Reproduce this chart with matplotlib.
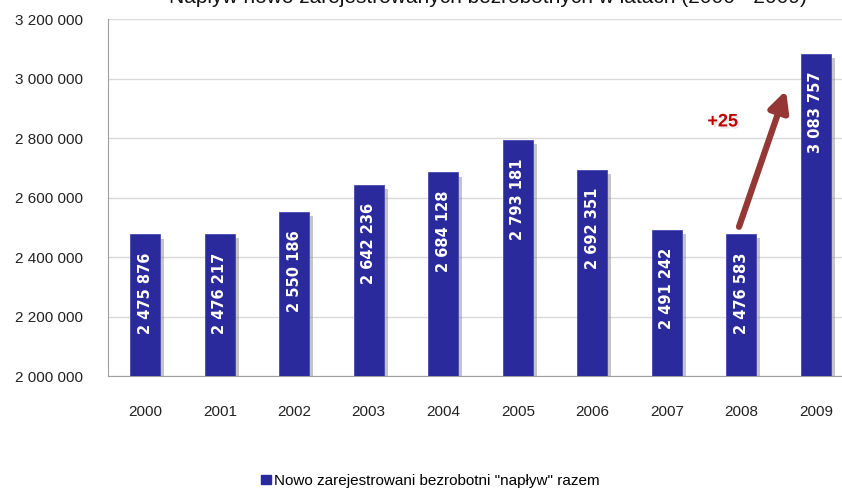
import matplotlib.pyplot as plt
import matplotlib.patheffects as pe
from matplotlib.patches import Patch
from matplotlib.ticker import FuncFormatter

years = ['2000', '2001', '2002', '2003', '2004', '2005', '2006', '2007', '2008', '2009']
values = [2475876, 2476217, 2550186, 2642236, 2684128, 2793181, 2692351, 2491242, 2476583, 3083757]
series_name = 'Nowo zarejestrowani bezrobotni "napływ" razem'
title = 'Napływ nowo zarejestrowanych bezrobotnych w latach (2000 - 2009)'
growth_label = '+25'

bar_color = '#2A2A9C'
arrow_color = '#953735'
fonts = ['Liberation Sans', 'DejaVu Sans']

plt.rcParams['font.family'] = fonts

fig = plt.figure(figsize=(8.42, 4.9), dpi=100)
ax = fig.add_axes([108 / 842, 1 - 376 / 490, 745 / 842, 357 / 490])

x = range(len(years))
shadow = [pe.SimplePatchShadow(offset=(3, -3), shadow_rgbFace='#808080', alpha=0.45), pe.Normal()]
bars = ax.bar(x, values, width=0.4, color=bar_color, edgecolor='#4848B0', linewidth=0.6, zorder=3)
for b in bars:
    b.set_path_effects(shadow)

# value labels inside bars, near the top
for i, v in enumerate(values):
    ax.annotate(f'{v:,}'.replace(',', ' '), (i, v), xytext=(0, -13), textcoords='offset points',
                rotation=90, ha='center', va='top', color='white', fontsize=10.5,
                fontweight='bold', family=['DejaVu Sans'], zorder=4)

ax.set_ylim(2000000, 3200000)
ax.set_xlim(-0.5, len(years) - 0.5)
ax.set_yticks(range(2000000, 3200001, 200000))
ax.yaxis.set_major_formatter(FuncFormatter(lambda v, p: f'{v:,.0f}'.replace(',', ' ')))
ax.set_xticks(list(x))
ax.set_xticklabels(years)
ax.tick_params(axis='y', length=0, pad=18, labelsize=11, labelcolor='#222222')
ax.tick_params(axis='x', length=0, pad=21, labelsize=11, labelcolor='#222222')

ax.grid(axis='y', color='#D9D9D9', linewidth=1, zorder=0)
ax.set_axisbelow(True)
for s in ['top', 'right']:
    ax.spines[s].set_visible(False)
ax.spines['left'].set_color('#A0A0A0')
ax.spines['bottom'].set_color('#A0A0A0')

# growth arrow 2008 -> 2009
ax.annotate('', xy=(8.6, 2960000), xytext=(7.97, values[8] + 25000),
            arrowprops=dict(arrowstyle='-|>,head_length=1.2,head_width=0.6', color=arrow_color,
                            lw=4.5, shrinkA=0, shrinkB=0), zorder=5)
ax.text(7.75, 2854000, growth_label, color='#C00000', fontsize=13, fontweight='bold',
        ha='center', va='center', zorder=5,
        path_effects=[pe.withSimplePatchShadow(offset=(1.5, -1.5), shadow_rgbFace='#BBBBBB', alpha=0.35)])

# title, mostly cut off at the top as in the original
fig.text(0.58, 1 - 3 / 490, title, ha='center', va='baseline', fontsize=15, color='#111111')

fig.legend(handles=[Patch(color=bar_color)], labels=[series_name], loc='center',
           bbox_to_anchor=(0.511, 1 - 481 / 490), frameon=False, fontsize=11,
           handlelength=0.6, handleheight=0.6, handletextpad=0.2)

fig.savefig('out.png', dpi=100)
